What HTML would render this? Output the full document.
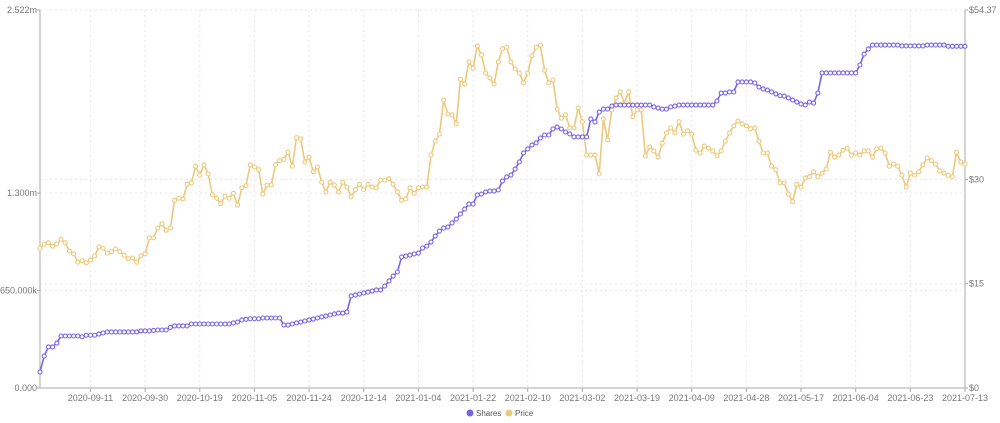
<!DOCTYPE html>
<html><head><meta charset="utf-8"><style>
body{margin:0;background:#fff;font-family:"Liberation Sans",sans-serif}
svg{display:block}
</style></head><body>
<svg id="chart" width="1000" height="423"></svg>
<script>
const sharesK=[107,213,274,274,300,347,347,347,347,347,
342,352,352,352,360,367,374,374,374,374,
374,374,374,374,381,381,381,384,387,387,
387,404,414,414,414,414,427,427,427,427,
427,427,427,427,427,427,434,440,454,458,
462,462,462,467,467,467,467,467,420,420,
427,434,440,447,454,460,467,474,480,487,
494,500,500,507,614,620,627,634,640,647,
654,654,680,714,747,774,874,880,887,894,
900,934,947,974,1014,1047,1067,1074,1101,1127,
1161,1194,1227,1227,1288,1294,1308,1314,1314,1321,
1381,1408,1421,1461,1508,1568,1595,1621,1635,1668,
1688,1688,1728,1741,1728,1708,1695,1675,1675,1675,
1675,1795,1775,1841,1861,1861,1881,1888,1888,1888,
1888,1888,1888,1888,1888,1888,1875,1868,1861,1861,
1875,1881,1888,1888,1888,1888,1888,1888,1888,1888,
1888,1915,1968,1968,1975,1975,2042,2042,2042,2042,
2035,2008,1995,1988,1975,1962,1950,1948,1935,1921,
1908,1895,1888,1908,1901,1968,2102,2102,2102,2102,
2102,2102,2102,2102,2102,2155,2228,2262,2288,2288,
2288,2288,2288,2288,2288,2282,2282,2282,2282,2282,
2282,2288,2288,2288,2288,2288,2280,2280,2280,2280,2280];
const price=[20.1,20.7,20.9,20.4,20.7,21.4,20.9,19.7,19.3,18.1,
18.3,18.0,18.4,19.0,20.3,20.1,19.4,19.6,20.0,19.6,
19.1,18.6,18.7,18.1,19.0,19.3,21.6,21.6,23.0,23.6,
22.7,23.0,27.0,27.3,27.2,29.3,29.5,31.9,30.6,32.1,
30.8,27.8,27.3,26.5,27.6,27.3,28.0,26.3,28.8,29.1,
32.1,31.8,31.4,27.9,29.2,29.2,32.1,32.7,32.9,33.9,
31.9,36.0,35.8,32.5,33.2,31.1,31.8,29.6,28.2,29.6,
29.2,28.2,29.6,28.9,27.5,28.5,29.3,28.5,29.3,28.9,
28.8,29.9,29.9,30.1,29.3,28.2,27.0,27.2,28.8,28.0,
28.8,28.9,28.9,33.5,35.5,36.5,41.4,39.4,39.3,38.0,
44.4,43.7,46.9,46.0,49.2,47.9,45.3,44.6,43.7,46.9,
48.8,49.0,46.9,45.9,45.3,43.9,45.3,47.8,49.0,49.3,
45.7,43.9,44.3,40.1,38.8,39.3,37.4,37.4,40.3,38.3,
33.5,33.5,33.5,30.8,38.7,35.7,40.0,41.7,42.6,41.0,
42.6,39.0,40.0,40.0,33.4,34.7,34.1,33.2,35.2,36.7,
37.4,36.7,38.3,36.5,37.0,36.5,34.2,33.8,34.8,34.5,
34.1,33.4,34.1,35.5,36.7,37.7,38.4,38.0,37.7,37.3,
37.4,35.5,33.8,33.8,31.9,31.4,29.5,29.5,27.9,26.8,
29.3,28.9,30.2,30.4,31.1,30.4,30.9,31.5,33.9,33.2,
33.5,34.2,34.5,33.5,33.8,33.5,34.1,34.1,33.2,34.4,
34.5,33.8,31.9,32.2,31.9,30.6,28.9,30.9,30.6,31.1,
32.1,33.1,32.7,32.2,31.2,30.9,30.6,30.4,33.9,32.5,32.2];
const tickLabels=["2020-09-11","2020-09-30","2020-10-19","2020-11-05","2020-11-24","2020-12-14","2021-01-04","2021-01-22","2021-02-10","2021-03-02","2021-03-19","2021-04-09","2021-04-28","2021-05-17","2021-06-04","2021-06-23","2021-07-13"];
const leftTicks=[0,650,1300,2522];
const leftTickLabels=["0.000","650.000k","1.300m","2.522m"];
const rightTicks=[0,15,30,54.37];
const rightTickLabels=["$0","$15","$30","$54.37"];
const firstTickIndex=12, tickStep=13;

const svg=document.getElementById('chart');
const NS='http://www.w3.org/2000/svg';
const X0=40,X1=965,Y0=388,Y1=10;
const n=sharesK.length;
const xs=i=>X0+(X1-X0)*i/(n-1);
const yL=v=>Y0-(Y0-Y1)*v/2522;
const yR=v=>Y0-(Y0-Y1)*v/54.37;
function mk(t,a,p){const e=document.createElementNS(NS,t);for(const k in a)e.setAttribute(k,a[k]);(p||svg).appendChild(e);return e;}
const grid=mk('g',{});


leftTicks.forEach((v,k)=>{
  const y=yL(v);
  if(k>0)mk('line',{x1:X0,x2:X1,y1:y,y2:y,stroke:'#e6e6e6','stroke-dasharray':'2,3'},grid);
  const t=mk('text',{x:X0-3,y:y+3,'text-anchor':'end','font-size':9,fill:'#777'});
  t.textContent=leftTickLabels[k];
  
  
  mk('line',{x1:X0-3,x2:X0,y1:y,y2:y,stroke:'#aaa'});
});
rightTicks.forEach((v,k)=>{
  const y=yR(v);
  if(k>0&&k<rightTicks.length-1)mk('line',{x1:X0,x2:X1,y1:y,y2:y,stroke:'#e6e6e6','stroke-dasharray':'2,3'},grid);
  const t=mk('text',{x:X1+4,y:y+3,'font-size':9,fill:'#777'});
  t.textContent=rightTickLabels[k];
  
  
  mk('line',{x1:X1,x2:X1+3,y1:y,y2:y,stroke:'#aaa'});
});
tickLabels.forEach((lab,k)=>{
  const x=xs(firstTickIndex+k*tickStep);
  mk('line',{x1:x,x2:x,y1:Y1,y2:Y0,stroke:'#e6e6e6','stroke-dasharray':'2,3'},grid);
  mk('line',{x1:x,x2:x,y1:Y0,y2:Y0+4,stroke:'#aaa'});
  const t=mk('text',{x:x,y:Y0+13,'text-anchor':'middle','font-size':9,fill:'#777'});
  t.textContent=lab;
  
  
});
const ax=mk('path',{d:`M${X0},${Y1}V${Y0}H${X1}V${Y1}`,fill:'none',stroke:'#aaa'});


function series(vals,yf,color,name){
  const g=mk('g',{});
  
  
  const l=mk('polyline',{points:vals.map((v,i)=>xs(i)+','+yf(v)).join(' '),fill:'none',stroke:color,'stroke-width':1.6},g);
  
  
  vals.forEach((v,i)=>{
    const c=mk('circle',{cx:xs(i),cy:yf(v),r:2,fill:'#fff',stroke:color,'stroke-width':1.1},g);
    
    
  });
}
series(price,yR,'#EDC97C','price');
series(sharesK,yL,'#7B63E8','shares');
const lg=mk('g',{});


[['Shares','#7B63E8',470],['Price','#EDC97C',509]].forEach(([lab,c,x])=>{
  const e=mk('g',{},lg);
  
  
  mk('circle',{cx:x,cy:413,r:3.5,fill:c},e);
  const t=mk('text',{x:x+6,y:416,'font-size':8,fill:'#555'},e);
  t.textContent=lab;
});
</script>
</body></html>
